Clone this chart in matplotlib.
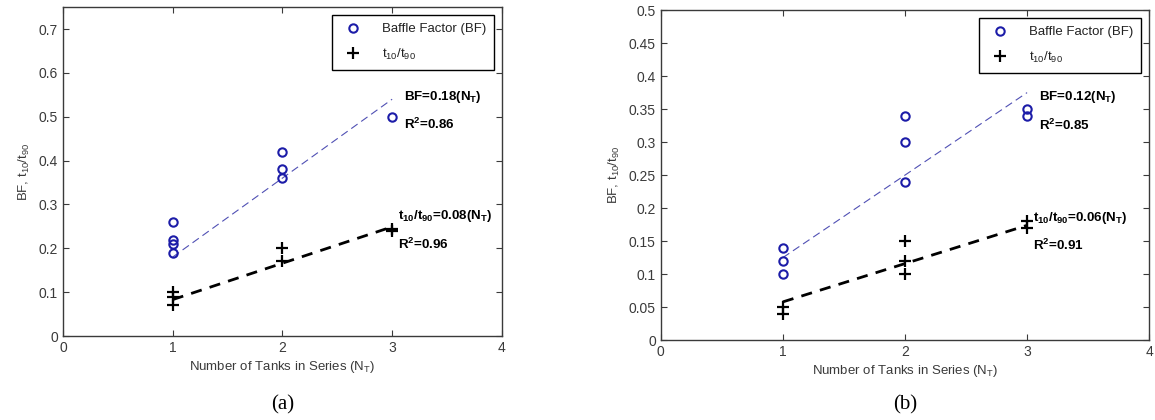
import numpy as np
import matplotlib.pyplot as plt

# ---- data ----
tanks_bf_a = [1, 1, 1, 1, 2, 2, 2, 3]
bf_a = [0.26, 0.22, 0.21, 0.19, 0.42, 0.38, 0.36, 0.50]
tanks_t_a = [1, 1, 1, 2, 2, 3, 3]
t_a = [0.10, 0.09, 0.07, 0.20, 0.17, 0.24, 0.245]
slope_bf_a = 0.18
slope_t_a = 0.083

tanks_bf_b = [1, 1, 1, 2, 2, 2, 3, 3]
bf_b = [0.14, 0.12, 0.10, 0.34, 0.30, 0.24, 0.35, 0.34]
tanks_t_b = [1, 1, 2, 2, 2, 3, 3]
t_b = [0.05, 0.04, 0.15, 0.12, 0.10, 0.18, 0.17]
slope_bf_b = 0.125
slope_t_b = 0.058

eq_bf = ["BF=0.18(N$_\\mathbf{T}$)", "BF=0.12(N$_\\mathbf{T}$)"]
r2_bf = ["R$^\\mathbf{2}$=0.86", "R$^\\mathbf{2}$=0.85"]
eq_t = ["t$_\\mathbf{10}$/t$_\\mathbf{90}$=0.08(N$_\\mathbf{T}$)",
        "t$_\\mathbf{10}$/t$_\\mathbf{90}$=0.06(N$_\\mathbf{T}$)"]
r2_t = ["R$^\\mathbf{2}$=0.96", "R$^\\mathbf{2}$=0.91"]

BLUE = "#1c1ca8"
GREY = "#3a3a3a"

plt.rcParams["font.family"] = ["Liberation Sans", "DejaVu Sans"]
plt.rcParams["mathtext.fontset"] = "custom"
plt.rcParams["mathtext.rm"] = "Liberation Sans"
plt.rcParams["mathtext.it"] = "Liberation Sans:italic"
plt.rcParams["mathtext.bf"] = "Liberation Sans:bold"

fig = plt.figure(figsize=(11.55, 4.2), dpi=100)
ax_a = fig.add_axes([0.0545, 0.200, 0.380, 0.783])
ax_b = fig.add_axes([0.572, 0.190, 0.423, 0.786])


def draw_panel(ax, xb, yb, xt, yt, sbf, st, ymax, yticks, ann, label):
    fx = np.array([1.0, 3.0])
    ax.plot(fx, sbf * fx, color="#5050b4", lw=0.8, dashes=(7, 4))
    ax.plot(fx, st * fx, color="black", lw=2.0, dashes=(4, 3))
    ax.plot(xb, yb, "o", mfc="none", mec=BLUE, mew=1.5, ms=6,
            label="Baffle Factor (BF)")
    ax.plot(xt, yt, "+", color="black", mew=1.6, ms=8,
            label="t$_\\mathrm{10}$/t$_\\mathrm{90}$")

    ax.set_xlim(0, 4)
    ax.set_ylim(0, ymax)
    ax.set_xticks([0, 1, 2, 3, 4])
    ax.set_yticks(yticks)
    ax.set_yticklabels([f"{v:g}" for v in yticks])
    ax.tick_params(direction="in", top=True, right=True, length=4,
                   labelsize=10, colors=GREY, labelcolor=GREY)
    for s in ax.spines.values():
        s.set_color(GREY)
        s.set_linewidth(1.0)
    ax.set_xlabel("Number of Tanks in Series (N$_\\mathrm{T}$)",
                  fontsize=9.5, color=GREY, labelpad=3)
    ax.set_ylabel("BF, t$_\\mathrm{10}$/t$_\\mathrm{90}$",
                  fontsize=9.5, color=GREY, labelpad=5)

    leg = ax.legend(loc="upper right", fontsize=9.5, frameon=True,
                    fancybox=False, edgecolor="black", framealpha=1,
                    handletextpad=1.2, borderpad=0.6, labelspacing=0.9,
                    handlelength=2.0, borderaxespad=0.6)
    leg.get_frame().set_linewidth(1.0)
    for txt in leg.get_texts():
        txt.set_color("#222222")

    for (x, y, s) in ann:
        ax.text(x, y, s, fontsize=9.6, fontweight="bold",
                ha="left", va="center")

    fig.text((ax.get_position().x0 + ax.get_position().x1) / 2, 0.036,
             label, ha="center", va="center", fontsize=15,
             family=["Liberation Serif", "DejaVu Serif"])


draw_panel(ax_a, tanks_bf_a, bf_a, tanks_t_a, t_a, slope_bf_a, slope_t_a,
           0.75, [0, 0.1, 0.2, 0.3, 0.4, 0.5, 0.6, 0.7],
           [(3.11, 0.545, eq_bf[0]), (3.11, 0.482, r2_bf[0]),
            (3.05, 0.274, eq_t[0]), (3.05, 0.21, r2_t[0])], "(a)")

draw_panel(ax_b, tanks_bf_b, bf_b, tanks_t_b, t_b, slope_bf_b, slope_t_b,
           0.5, [0, 0.05, 0.1, 0.15, 0.2, 0.25, 0.3, 0.35, 0.4, 0.45, 0.5],
           [(3.1, 0.368, eq_bf[1]), (3.1, 0.325, r2_bf[1]),
            (3.05, 0.185, eq_t[1]), (3.05, 0.143, r2_t[1])], "(b)")

fig.savefig("out.png", dpi=100)
